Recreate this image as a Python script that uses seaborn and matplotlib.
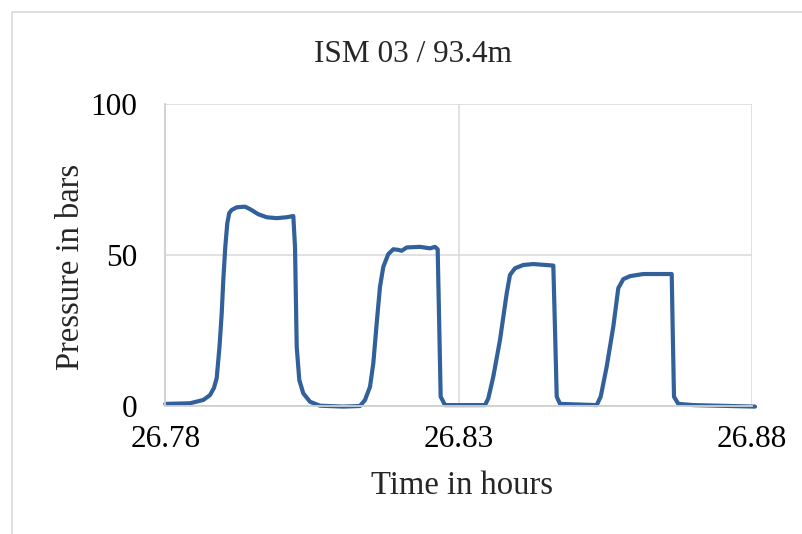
import numpy as np
import pandas as pd
import matplotlib
matplotlib.use('agg')
import matplotlib.pyplot as plt
from matplotlib.patches import Rectangle
import seaborn as sns

# time (hours) and pressure (bars)
time_h = [26.78000, 26.78421, 26.78648, 26.78762, 26.78830, 26.78877, 26.78924,
          26.78962, 26.78989, 26.79023, 26.79057, 26.79091, 26.79132, 26.79218,
          26.79359, 26.79444, 26.79586, 26.79729, 26.79900, 26.80070, 26.80183,
          26.80212, 26.80241, 26.80285, 26.80353, 26.80468, 26.80638, 26.81035,
          26.81320,
          26.81406, 26.81491, 26.81547, 26.81605, 26.81661, 26.81718, 26.81803,
          26.81888, 26.81973, 26.82031, 26.82117, 26.82343, 26.82514, 26.82599,
          26.82645, 26.82673, 26.82696, 26.82770, 26.83452,
          26.83508, 26.83593, 26.83708, 26.83822, 26.83878, 26.83963, 26.84105,
          26.84276, 26.84617, 26.84646, 26.84675, 26.84731, 26.85357,
          26.85425, 26.85527, 26.85640, 26.85725, 26.85810, 26.85925, 26.86151,
          26.86636, 26.86653, 26.86675, 26.86748, 26.87004, 26.88056]
pressure = [0.7, 0.9, 2.0, 3.6, 6.0, 9.3, 19.6,
            30.7, 41.7, 52.7, 60.5, 63.9, 64.9, 65.8,
            66.0, 65.2, 63.5, 62.5, 62.2, 62.5, 62.9,
            52.7, 19.6, 8.6, 4.2, 1.4, 0.1, -0.2,
            0.0,
            2.0, 6.4, 14.1, 27.4, 39.5, 46.1, 50.3,
            51.9, 51.7, 51.4, 52.5, 52.7, 52.2, 52.7,
            51.9, 25.2, 3.1, 0.3, 0.3,
            2.5, 9.7, 21.9, 37.3, 43.4, 45.6, 46.7,
            47.0, 46.5, 25.2, 3.1, 0.7, 0.3,
            3.1, 13.0, 26.3, 39.0, 42.0, 43.0, 43.7,
            43.7, 25.2, 3.1, 0.7, 0.3, -0.2]

title = "ISM 03 / 93.4m"
xticks = [26.78, 26.83, 26.88]
yticks = [0, 50, 100]

df = pd.DataFrame({'time': time_h, 'pressure': pressure})

sns.set_style("white")
plt.rcParams['font.family'] = ['Liberation Serif', 'DejaVu Serif']

fig = plt.figure(figsize=(8.03, 5.34), dpi=100)
ax = fig.add_axes([165.3/803, 1-406/534, 586.4/803, 302/534])

sns.lineplot(data=df, x='time', y='pressure', ax=ax, color='#31609A',
             linewidth=3.0, estimator=None, sort=False, clip_on=False,
             solid_joinstyle='round', solid_capstyle='round')

ax.set_xlim(26.78, 26.88)
ax.set_ylim(0, 100)
ax.set_xticks(xticks)
ax.set_xticklabels(["%.2f" % v for v in xticks])
ax.set_yticks(yticks)
ax.tick_params(axis='both', length=0, labelsize=22.5, labelcolor='black')
ax.tick_params(axis='x', pad=13.5)
ax.tick_params(axis='y', pad=20)

ax.grid(True, color='#d9d9d9', linewidth=1.1)
ax.set_axisbelow(True)
for s in ['top', 'right']:
    ax.spines[s].set_visible(False)
for s in ['left', 'bottom']:
    ax.spines[s].set_color('#d0d0d0')
    ax.spines[s].set_linewidth(1.3)

ax.set_xlabel("Time in hours", fontsize=23.5)
ax.xaxis.set_label_coords(0.506, -0.212)
ax.set_ylabel("Pressure in bars", fontsize=23.5)
ax.yaxis.set_label_coords(-0.136, 0.46)

fig.text(413/803, 1-62/534, title, ha='center', va='baseline', fontsize=22.5)

# outer chart border (cut off at right and bottom)
fig.patches.append(Rectangle((12/803, -0.1), 1.2, 1-12/534+0.1,
                             transform=fig.transFigure, fill=False,
                             edgecolor='#d9d9d9', linewidth=1.2))

fig.savefig("out.png", dpi=100)
